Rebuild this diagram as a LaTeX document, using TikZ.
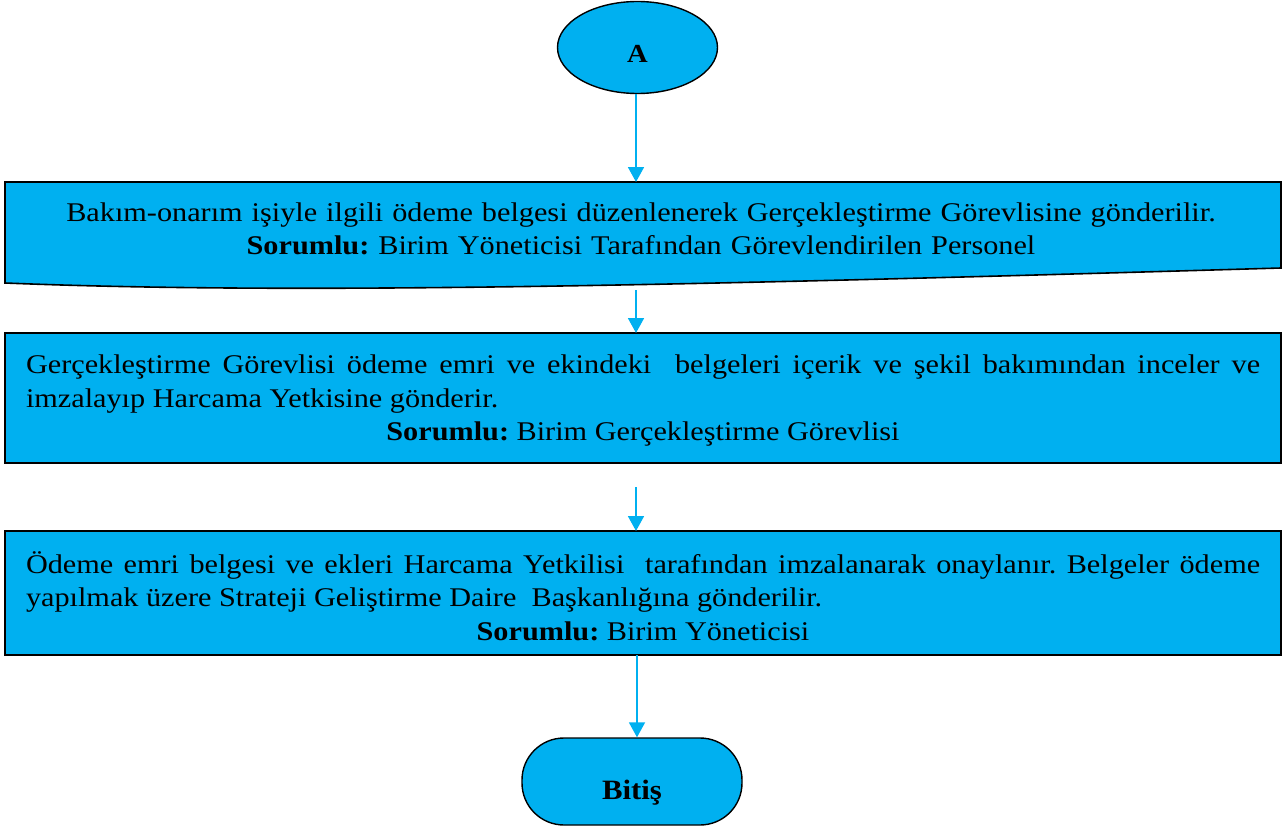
\documentclass[tikz,border=0pt]{standalone}
\usepackage{fontspec}
\setmainfont{Liberation Serif}[FakeStretch=1.12]
\newfontfamily\headfont{Liberation Serif}[FakeStretch=1.1]
\usetikzlibrary{arrows.meta,shapes.geometric}
\definecolor{flowblue}{HTML}{00B0F0}
\tikzset{
  flowbox/.style={draw=black, line width=1.6pt, fill=flowblue, minimum width=1276pt, inner sep=0pt, outer sep=0pt},
  flowtext/.style={text width=1234pt, inner sep=0pt, font=\frenchspacing\fontsize{27}{33.5}\selectfont},
  flowarrow/.style={draw=flowblue, line width=1.8pt, -{Triangle[length=15pt,width=16pt]}},
  termshape/.style={draw=black, line width=1.4pt, fill=flowblue}
}
\begin{document}
\begin{tikzpicture}[x=1pt,y=-1pt]
\useasboundingbox (0,0) rectangle (1285,832);
% start ellipse
\node[termshape, ellipse, minimum width=160pt, minimum height=92pt, inner sep=0pt,
      font=\headfont\bfseries\fontsize{26}{30}\selectfont] (A) at (637.5,47.5) {\raisebox{-15pt}[0pt][0pt]{A}};
% box 1 (document shape)
\path[draw=black, line width=1.6pt, fill=flowblue]
  (5,182) -- (1281,182) -- (1281,268)
  .. controls (700,285) and (300,295) .. (5,283) -- cycle;
\node[flowtext, align=center] (b1) at (641,229)
  {Bakım-onarım işiyle ilgili ödeme belgesi düzenlenerek Gerçekleştirme Görevlisine gönderilir.\\
   \textbf{Sorumlu:} Birim Yöneticisi Tarafından Görevlendirilen Personel};
\coordinate (b1bot) at (636,290);
% box 2
\node[flowbox, minimum height=130pt] (b2) at (643,398) {};
\node[flowtext, align=justify] (b2t) at (643,401)
  {Gerçekleştirme Görevlisi ödeme emri ve ekindeki\ \ belgeleri içerik ve şekil bakımından inceler ve\linebreak
   imzalayıp Harcama Yetkisine gönderir.\par\centering\textbf{Sorumlu:} Birim Gerçekleştirme Görevlisi\par};
\coordinate (gapstart) at (636,487);
% box 3
\node[flowbox, minimum height=124pt] (b3) at (643,593) {};
\node[flowtext, align=justify] (b3t) at (643,596)
  {Ödeme emri belgesi ve ekleri Harcama Yetkilisi\ \ tarafından imzalanarak onaylanır. Belgeler ödeme\linebreak
   yapılmak üzere Strateji Geliştirme Daire\ \ Başkanlığına gönderilir.\par\centering\textbf{Sorumlu:} Birim Yöneticisi\par};
% end terminal
\node[termshape, rectangle, rounded corners=42pt, minimum width=220pt, minimum height=87pt, inner sep=0pt,
      font=\headfont\bfseries\fontsize{28}{32}\selectfont] (end) at (632,781.5) {\raisebox{-17.5pt}[0pt][0pt]{Bitiş}};
% connectors
\draw[flowarrow] (A.south -| 636,0) -- (636,182);
\draw[flowarrow] (b1bot) -- (b1bot |- b2.north);
\draw[flowarrow] (gapstart) -- (gapstart |- b3.north);
\draw[flowarrow] (b3.south -| 637,0) -- (end.north -| 637,0);
\end{tikzpicture}
\end{document}
